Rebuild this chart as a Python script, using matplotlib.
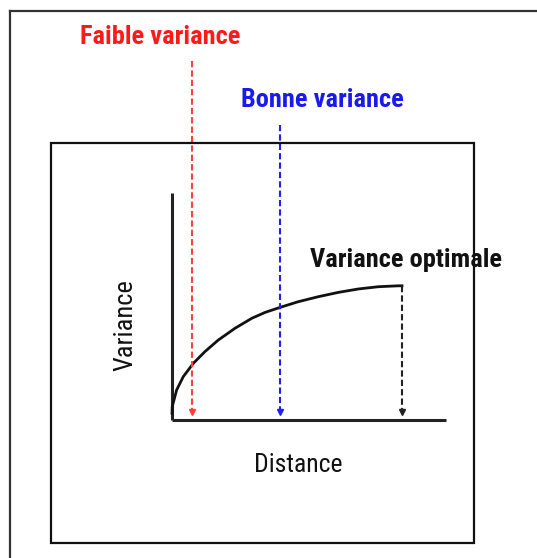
import matplotlib.pyplot as plt
from matplotlib.patches import Rectangle
from matplotlib.lines import Line2D

distance = [0, 0.01, 0.20, 0.49, 0.93, 1.43, 2.01, 2.74, 3.47, 4.05, 4.70,
            5.49, 6.36, 7.23, 8.10, 8.97, 9.84, 10.0]
variance = [0.30, 0.59, 1.32, 1.91, 2.50, 3.01, 3.52, 4.04, 4.48, 4.74, 4.96,
            5.21, 5.43, 5.62, 5.77, 5.87, 5.91, 5.91]

# Lignes de repere
faible_x, faible_top = 0.87, 15.8
bonne_x, bonne_top = 4.7, 13.0
optimale_x, optimale_top = 10, 5.9

x_max, y_max = 11.9, 10

fam = ['Roboto Condensed', 'Liberation Sans Narrow', 'Liberation Sans', 'DejaVu Sans']

fig = plt.figure(figsize=(5.37, 5.58), dpi=100)
ax = fig.add_axes([0, 0, 1, 1])
ax.set_xlim(-7.48, 15.87)
ax.set_ylim(-6.08, 18.5)
ax.axis('off')

# cadres
fig.add_artist(Line2D([10/537, 1], [1 - 11/558, 1 - 11/558], color='#333333', lw=1.6))
fig.add_artist(Line2D([10/537, 10/537], [0, 1 - 11/558], color='#333333', lw=1.6))
fig.add_artist(Rectangle((51/537, 1 - 543/558), (474 - 51)/537, (543 - 143)/558,
                         fill=False, ec='#111111', lw=1.6))

# axes du schema
ax.plot([0, 0], [0, y_max], color='#222222', lw=2.2, solid_capstyle='butt')
ax.plot([0, x_max], [0, 0], color='#222222', lw=2.2, solid_capstyle='butt')

# courbe
ax.plot(distance, variance, color='#111111', lw=2.0)

# lignes pointillees avec fleches
for x, top, col in [(faible_x, faible_top, '#ff4040'),
                    (bonne_x, bonne_top, '#2020ee'),
                    (optimale_x, optimale_top, '#222222')]:
    ax.plot([x, x], [top, 0.3], color=col, lw=1.5, ls=(0, (3, 1.5)))
    ax.plot([x], [0.35], marker='v', color=col, ms=5)

ax.text(-4.0, 16.87, 'Faible variance', color='#ff1a1a', fontsize=19,
        fontweight='bold', family=fam, ha='left', va='center')
ax.text(3.0, 14.1, 'Bonne variance', color='#1a1aee', fontsize=19,
        fontweight='bold', family=fam, ha='left', va='center')
ax.text(6.0, 7.05, 'Variance optimale', color='#111111', fontsize=19,
        fontweight='bold', family=fam, ha='left', va='center')
ax.text(5.5, -1.98, 'Distance', color='#111111', fontsize=18.5,
        family=fam, ha='center', va='center')
ax.text(-2.04, 4.19, 'Variance', color='#111111', fontsize=19, rotation=90,
        family=fam, ha='center', va='center')

fig.savefig('out.png', dpi=100)
